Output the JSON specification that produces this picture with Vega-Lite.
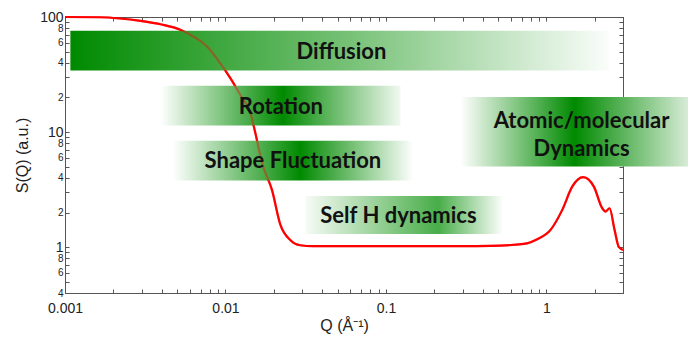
{
  "$schema": "https://vega.github.io/schema/vega-lite/v6.json",
  "width": 558,
  "height": 276,
  "autosize": "none",
  "padding": {"left": 65, "top": 17, "right": 65, "bottom": 44},
  "background": "white",
  "config": {
    "view": {"stroke": "#666", "strokeWidth": 1},
    "axis": {
      "grid": false,
      "domainColor": "#555",
      "tickColor": "#555",
      "tickSize": -4,
      "labelFont": "Liberation Sans",
      "labelColor": "#222",
      "titleFont": "Liberation Sans",
      "titleFontWeight": "normal",
      "titleColor": "#222",
      "titleFontSize": 16
    }
  },
  "datasets": {
    "curve": [
      {"Q": 0.001, "S": 100},
      {"Q": 0.00166, "S": 99.5},
      {"Q": 0.0022, "S": 97},
      {"Q": 0.00295, "S": 92.5},
      {"Q": 0.004, "S": 86},
      {"Q": 0.00523, "S": 77.5},
      {"Q": 0.0065, "S": 66},
      {"Q": 0.00768, "S": 55.5},
      {"Q": 0.009, "S": 42},
      {"Q": 0.0107, "S": 29.6},
      {"Q": 0.0125, "S": 20.5},
      {"Q": 0.0143, "S": 14.7},
      {"Q": 0.0153, "S": 10},
      {"Q": 0.0169, "S": 5.4},
      {"Q": 0.0195, "S": 3.13},
      {"Q": 0.022, "S": 1.56},
      {"Q": 0.0254, "S": 1.15},
      {"Q": 0.0292, "S": 1.04},
      {"Q": 0.035, "S": 1.02},
      {"Q": 0.1, "S": 1.02},
      {"Q": 0.3, "S": 1.02},
      {"Q": 0.448, "S": 1.026},
      {"Q": 0.723, "S": 1.068},
      {"Q": 0.876, "S": 1.174},
      {"Q": 1.061, "S": 1.414},
      {"Q": 1.255, "S": 2.11},
      {"Q": 1.448, "S": 3.36},
      {"Q": 1.696, "S": 4.06},
      {"Q": 1.975, "S": 3.36},
      {"Q": 2.228, "S": 2.18},
      {"Q": 2.336, "S": 2.04},
      {"Q": 2.474, "S": 2.18},
      {"Q": 2.658, "S": 1.414},
      {"Q": 2.828, "S": 1.0},
      {"Q": 3.0, "S": 0.947}
    ],
    "bands": [
      {"band": "Diffusion", "q1": 0.00108, "q2": 2.44, "s1": 34.3, "s2": 76},
      {"band": "Rotation", "q1": 0.00393, "q2": 0.1232, "s1": 11.4, "s2": 25.3},
      {"band": "Shape", "q1": 0.00467, "q2": 0.1484, "s1": 3.79, "s2": 8.4},
      {"band": "SelfH", "q1": 0.0315, "q2": 0.54, "s1": 1.3, "s2": 2.79},
      {"band": "Atomic", "q1": 0.291, "q2": 7.7, "s1": 5.02, "s2": 20.2}
    ],
    "labels": [
      {"Q": 0.0528, "S": 49.9, "label": "Diffusion"},
      {"Q": 0.02215, "S": 16.6, "label": "Rotation"},
      {"Q": 0.0263, "S": 5.63, "label": "Shape Fluctuation"},
      {"Q": 0.1197, "S": 1.87, "label": "Self H dynamics"},
      {"Q": 1.655, "S": 12.6, "label": "Atomic/molecular\nDynamics"}
    ]
  },
  "layer": [
    {
      "data": {"name": "curve"},
      "mark": {"type": "line", "color": "#ff0000", "strokeWidth": 2.2, "interpolate": "monotone"},
      "encoding": {
        "x": {
          "field": "Q", "type": "quantitative",
          "scale": {"type": "log", "domain": [0.001, 3], "nice": false},
          "axis": {
            "orient": "bottom",
            "title": "Q (Å⁻¹)",
            "titlePadding": 2,
            "labelFontSize": 14,
            "labelPadding": 12,
            "format": "~g",
            "values": [0.001,0.002,0.003,0.004,0.005,0.006,0.007,0.008,0.009,0.01,0.02,0.03,0.04,0.05,0.06,0.07,0.08,0.09,0.1,0.2,0.3,0.4,0.5,0.6,0.7,0.8,0.9,1,2,3],
            "labelExpr": "indexof([0.001,0.01,0.1,1], datum.value) >= 0 ? datum.label : ''",
            "labelOverlap": false,
            "labelFlush": false
          }
        },
        "y": {
          "field": "S", "type": "quantitative",
          "scale": {"type": "log", "domain": [0.4, 100], "nice": false},
          "axis": {
            "orient": "left",
            "title": "S(Q) (a.u.)",
            "titlePadding": 9,
            "labelPadding": 6,
            "format": "~g",
            "values": [0.4,0.5,0.6,0.7,0.8,0.9,1,2,3,4,5,6,7,8,9,10,20,30,40,50,60,70,80,90,100],
            "labelExpr": "indexof([1,10,100], datum.value) >= 0 ? datum.label : indexof([0.4,0.6,0.8], datum.value) >= 0 ? format(datum.value*10,'d') : indexof([2,4,6,8], datum.value) >= 0 ? datum.label : indexof([20,40,60,80], datum.value) >= 0 ? format(datum.value/10,'d') : ''",
            "labelFontSize": {"condition": {"test": "indexof([1,10,100], datum.value) >= 0", "value": 14}, "value": 10},
            "labelOverlap": false,
            "labelFlush": false
          }
        }
      }
    },
    {
      "data": {"name": "bands"},
      "transform": [{"filter": "datum.band == 'Diffusion'"}],
      "mark": {"type": "rect", "fill": {"gradient": "linear", "x1": 0, "x2": 1, "y1": 0, "y2": 0, "stops": [{"offset": 0, "color": "#008a00"}, {"offset": 0.5, "color": "#72bf72"}, {"offset": 1, "color": "#fafdfa"}]}},
      "encoding": {
        "x": {"field": "q1", "type": "quantitative", "axis": null},
        "x2": {"field": "q2"},
        "y": {"field": "s1", "type": "quantitative", "axis": null},
        "y2": {"field": "s2"}
      }
    },
    {
      "data": {"name": "bands"},
      "transform": [{"filter": "datum.band == 'Rotation'"}],
      "mark": {"type": "rect", "fill": {"gradient": "linear", "x1": 0, "x2": 1, "y1": 0, "y2": 0, "stops": [{"offset": 0, "color": "#ffffff"}, {"offset": 0.51, "color": "#008a00"}, {"offset": 1, "color": "#f2f9f2"}]}},
      "encoding": {
        "x": {"field": "q1", "type": "quantitative", "axis": null},
        "x2": {"field": "q2"},
        "y": {"field": "s1", "type": "quantitative", "axis": null},
        "y2": {"field": "s2"}
      }
    },
    {
      "data": {"name": "bands"},
      "transform": [{"filter": "datum.band == 'Shape'"}],
      "mark": {"type": "rect", "fill": {"gradient": "linear", "x1": 0, "x2": 1, "y1": 0, "y2": 0, "stops": [{"offset": 0, "color": "#ffffff"}, {"offset": 0.53, "color": "#008a00"}, {"offset": 1, "color": "#ffffff"}]}},
      "encoding": {
        "x": {"field": "q1", "type": "quantitative", "axis": null},
        "x2": {"field": "q2"},
        "y": {"field": "s1", "type": "quantitative", "axis": null},
        "y2": {"field": "s2"}
      }
    },
    {
      "data": {"name": "bands"},
      "transform": [{"filter": "datum.band == 'SelfH'"}],
      "mark": {"type": "rect", "fill": {"gradient": "linear", "x1": 0, "x2": 1, "y1": 0, "y2": 0, "stops": [{"offset": 0, "color": "#f6fbf6"}, {"offset": 0.67, "color": "#48ad48"}, {"offset": 1, "color": "#ffffff"}]}},
      "encoding": {
        "x": {"field": "q1", "type": "quantitative", "axis": null},
        "x2": {"field": "q2"},
        "y": {"field": "s1", "type": "quantitative", "axis": null},
        "y2": {"field": "s2"}
      }
    },
    {
      "data": {"name": "bands"},
      "transform": [{"filter": "datum.band == 'Atomic'"}],
      "mark": {"type": "rect", "fill": {"gradient": "linear", "x1": 0, "x2": 1, "y1": 0, "y2": 0, "stops": [{"offset": 0, "color": "#ffffff"}, {"offset": 0.5, "color": "#008a00"}, {"offset": 1, "color": "#d8ecd8"}]}},
      "encoding": {
        "x": {"field": "q1", "type": "quantitative", "axis": null},
        "x2": {"field": "q2"},
        "y": {"field": "s1", "type": "quantitative", "axis": null},
        "y2": {"field": "s2"}
      }
    },
    {
      "data": {"name": "curve"},
      "mark": {"type": "line", "color": "#ff0000", "strokeWidth": 2.2, "interpolate": "monotone", "opacity": 0.4},
      "encoding": {
        "x": {
          "field": "Q", "type": "quantitative",
          "axis": {
            "orient": "top", "title": null, "labels": false,
            "values": [0.001,0.002,0.003,0.004,0.005,0.006,0.007,0.008,0.009,0.01,0.02,0.03,0.04,0.05,0.06,0.07,0.08,0.09,0.1,0.2,0.3,0.4,0.5,0.6,0.7,0.8,0.9,1,2,3]
          }
        },
        "y": {
          "field": "S", "type": "quantitative",
          "axis": {
            "orient": "right", "title": null, "labels": false,
            "values": [0.4,0.5,0.6,0.7,0.8,0.9,1,2,3,4,5,6,7,8,9,10,20,30,40,50,60,70,80,90,100]
          }
        }
      }
    },
    {
      "data": {"name": "labels"},
      "mark": {"type": "text", "font": "Lato", "fontWeight": "bold", "fontSize": 22, "color": "#111", "align": "center", "baseline": "middle", "lineBreak": "\n", "lineHeight": 28},
      "encoding": {
        "x": {"field": "Q", "type": "quantitative", "axis": null},
        "y": {"field": "S", "type": "quantitative", "axis": null},
        "text": {"field": "label"}
      }
    }
  ],
  "resolve": {"axis": {"x": "independent", "y": "independent"}}
}
